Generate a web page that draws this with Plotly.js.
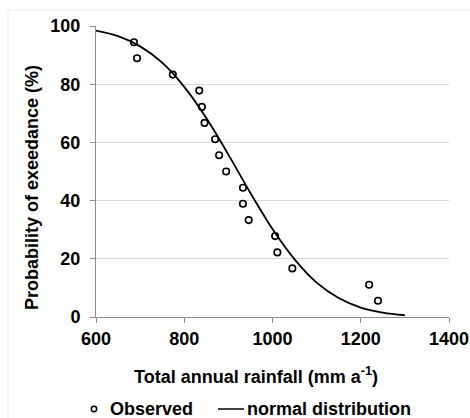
<!DOCTYPE html>
<html>
<head>
<meta charset="utf-8">
<script src="https://cdn.plot.ly/plotly-3.0.1.min.js"></script>
<style>
html,body{margin:0;padding:0;background:#fff;}
#chart{width:470px;height:418px;}
</style>
</head>
<body>
<div id="chart"></div>
<script>
// Observed annual rainfall (mm a-1) and exceedance probability (%)
var obsRainfall = [686, 693, 774, 834, 840, 846, 870, 879, 895, 933, 933, 946, 1006, 1011, 1045, 1219, 1239];
var obsProb = [94.4, 88.9, 83.3, 77.8, 72.2, 66.7, 61.1, 55.6, 50.0, 44.4, 38.9, 33.3, 27.8, 22.2, 16.7, 11.1, 5.6];

// Fitted normal distribution curve
var normRainfall = [600, 650, 700, 750, 800, 850, 900, 950, 1000, 1050, 1100, 1150, 1200, 1250, 1300];
var normProb = [98.4, 96.5, 93.0, 87.4, 79.1, 68.4, 55.8, 42.6, 30.2, 19.8, 11.8, 6.5, 3.2, 1.5, 0.6];

var xTicks = [600, 800, 1000, 1200, 1400];
var yTicks = [0, 20, 40, 60, 80, 100];
var legendNames = ['Observed', 'normal distribution'];
var xTitle = 'Total annual rainfall (mm a<sup>-1</sup>)';
var yTitle = 'Probability of exeedance (%)';

var font = "'Liberation Sans', Arial, sans-serif";
var FS = 18;
function f() { return {family: font, size: FS, color: '#000', weight: 'bold'}; }

var traces = [
  {
    x: obsRainfall, y: obsProb, type: 'scatter', mode: 'markers', name: legendNames[0],
    marker: {symbol: 'circle-open', size: 6.5, color: '#000', line: {width: 1.6, color: '#000'}},
    cliponaxis: false
  },
  {
    x: normRainfall, y: normProb, type: 'scatter', mode: 'lines', name: legendNames[1],
    line: {color: '#000', width: 1.8, shape: 'spline', smoothing: 1}
  }
];

// plot area: x 96..449 px, y 26..317 px
var PW = 353, PH = 291, PL = 96, PB = 317;
function px(x) { return (x - PL) / PW; }
function py(y) { return (PB - y) / PH; }
var legY = py(409);

var layout = {
  width: 470, height: 418,
  margin: {l: 96, r: 21, t: 26, b: 101},
  paper_bgcolor: '#fff', plot_bgcolor: '#fff',
  font: f(),
  showlegend: false,
  xaxis: {
    range: [600, 1400], tickvals: xTicks, ticktext: xTicks.map(String),
    showgrid: false, zeroline: false, automargin: false,
    showline: true, linecolor: '#8c8c8c', linewidth: 1,
    ticks: 'outside', ticklen: 5, tickcolor: '#8c8c8c', tickwidth: 1,
    tickfont: f()
  },
  yaxis: {
    range: [0, 100], tickvals: yTicks, ticktext: yTicks.map(String),
    showgrid: true, gridcolor: '#d9d9d9', gridwidth: 1, zeroline: false, automargin: false,
    showline: true, linecolor: '#8c8c8c', linewidth: 1,
    ticks: 'outside', ticklen: 5, tickcolor: '#8c8c8c', tickwidth: 1,
    ticklabelstandoff: 6,
    tickfont: f()
  },
  annotations: [
    // axis titles (centred on the original chart frame, not the plot area)
    {text: xTitle, xref: 'paper', yref: 'paper', x: px(256), y: py(375),
     xanchor: 'center', yanchor: 'middle', showarrow: false, font: f()},
    {text: yTitle, xref: 'paper', yref: 'paper', x: px(32), y: py(188), textangle: -90,
     xanchor: 'center', yanchor: 'middle', showarrow: false, font: f()},
    // legend
    {text: legendNames[0], xref: 'paper', yref: 'paper', x: px(108), y: legY,
     xanchor: 'left', yanchor: 'middle', showarrow: false, font: f()},
    {text: legendNames[1], xref: 'paper', yref: 'paper', x: px(245), y: legY,
     xanchor: 'left', yanchor: 'middle', showarrow: false, font: f()}
  ],
  shapes: [
    // outer light frame
    {type: 'line', xref: 'paper', yref: 'paper', x0: px(8), x1: px(480), y0: py(10), y1: py(10),
     line: {color: '#ececec', width: 1}},
    {type: 'line', xref: 'paper', yref: 'paper', x0: px(8), x1: px(8), y0: py(10), y1: py(430),
     line: {color: '#ececec', width: 1}},
    // legend symbols
    {type: 'circle', xref: 'paper', yref: 'paper', xsizemode: 'pixel', ysizemode: 'pixel',
     xanchor: px(94), yanchor: legY, x0: -2.7, x1: 2.7, y0: -2.7, y1: 2.7,
     line: {color: '#000', width: 1.5}},
    {type: 'line', xref: 'paper', yref: 'paper', x0: px(218), x1: px(244), y0: legY, y1: legY,
     line: {color: '#000', width: 1.5}}
  ]
};

Plotly.newPlot('chart', traces, layout, {displayModeBar: false, staticPlot: true});
</script>
</body>
</html>
